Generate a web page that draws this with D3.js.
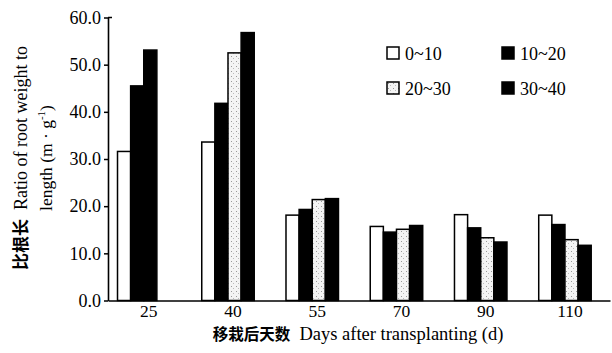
<!DOCTYPE html>
<html>
<head>
    <meta http-equiv="content-type" content="text/html; charset=utf-8" />
    <title>Index</title>
    <script src="https://cdn.jsdelivr.net/npm/d3@7"></script>
    <style>
        body { margin: 0; background: #fff; }
    </style>
</head>
<body>
    <svg width="612" height="353" id="svgChart"></svg>

    <script>
        // data
        var days = ["25", "40", "55", "70", "90", "110"];
        var seriesNames = ["0~10", "10~20", "20~30", "30~40"];
        var s0_10 = [31.6, 33.6, 18.1, 15.7, 18.2, 18.1];
        var s10_20 = [45.5, 41.8, 19.3, 14.5, 15.4, 16.1];
        var s20_30 = [null, 52.5, 21.4, 15.1, 13.3, 12.9];
        var s30_40 = [53.1, 56.8, 21.6, 15.9, 12.4, 11.7];
        var yTicks = [0, 10, 20, 30, 40, 50, 60];

        var seriesValues = [s0_10, s10_20, s20_30, s30_40];
        var fills = ["#fff", "#000", "url(#stipple)", "#000"];

        var svg = d3.select("#svgChart");
        var serif = "Liberation Serif, DejaVu Serif, serif";
        var cjk = "Noto Sans CJK SC, sans-serif";

        // stipple pattern for the 20~30 bars
        var pat = svg.append("defs").append("pattern")
            .attr("id", "stipple")
            .attr("patternUnits", "userSpaceOnUse")
            .attr("width", 5).attr("height", 5);
        pat.append("rect").attr("width", 5).attr("height", 5).attr("fill", "#f4f4f4");
        pat.append("rect").attr("x", 1).attr("y", 1).attr("width", 1).attr("height", 1).attr("fill", "#999");
        pat.append("rect").attr("x", 3).attr("y", 3).attr("width", 1).attr("height", 1).attr("fill", "#bbb");

        var x = d3.scaleBand().domain(days).range([108, 610])
            .paddingInner(0.377).paddingOuter(0.168).align(0.336);
        var xi = d3.scaleBand().domain([0, 1, 2, 3]).range([0, x.bandwidth()]);
        var y = d3.scaleLinear().domain([0, 60]).range([300.5, 17.5]);

        // bars: within a day the present values sit side by side
        var bars = [];
        days.forEach(function(d, i) {
            var k = 0;
            seriesValues.forEach(function(vals, s) {
                if (vals[i] == null) return;
                bars.push({day: d, slot: k, series: s, value: vals[i]});
                k++;
            });
        });

        svg.append("g").selectAll("rect")
            .data(bars)
            .enter().append("rect")
            .attr("x", function(d) { return x(d.day) + xi(d.slot); })
            .attr("y", function(d) { return y(d.value); })
            .attr("width", xi.bandwidth())
            .attr("height", function(d) { return y(0) - y(d.value); })
            .attr("fill", function(d) { return fills[d.series]; })
            .attr("stroke", "#000")
            .attr("stroke-width", 1.5);

        // y axis
        var gy = svg.append("g")
            .attr("transform", "translate(108,0)")
            .call(d3.axisLeft(y).tickValues(yTicks).tickFormat(d3.format(".1f")).tickSize(4).tickSizeOuter(0).tickPadding(3));
        gy.attr("font-family", serif).attr("font-size", 18);
        gy.select(".domain").attr("stroke-width", 1.6);
        gy.selectAll(".tick line").attr("stroke-width", 1.5);
        gy.append("line").attr("x1", 0).attr("x2", 4).attr("y1", y(60)).attr("y2", y(60))
            .attr("stroke", "#000").attr("stroke-width", 1.5);

        // x axis
        var gx = svg.append("g")
            .attr("transform", "translate(0," + y(0) + ")")
            .call(d3.axisBottom(x).tickSize(0).tickPadding(4));
        gx.attr("font-family", serif).attr("font-size", 17.5);
        gx.select(".domain").attr("stroke-width", 1.6);
        gx.selectAll(".tick text").attr("dx", 5);

        // axis titles
        var xt = svg.append("text")
            .attr("x", 358).attr("y", 340)
            .attr("text-anchor", "middle");
        xt.append("tspan").attr("font-family", cjk).attr("font-size", 15.5).attr("font-weight", "bold").text("移栽后天数");
        xt.append("tspan").attr("font-family", serif).attr("font-size", 18.5).text("\u2002Days after transplanting (d)");

        var yt = svg.append("g").attr("transform", "translate(27,158) rotate(-90)");
        var yl1 = yt.append("text").attr("text-anchor", "middle");
        yl1.append("tspan").attr("font-family", cjk).attr("font-size", 17).attr("font-weight", "bold").text("比根长");
        yl1.append("tspan").attr("font-family", serif).attr("font-size", 18).text("\u2002Ratio of root weight to");
        var yl2 = yt.append("text").attr("text-anchor", "middle").attr("y", 25)
            .attr("font-family", serif).attr("font-size", 17.5);
        yl2.append("tspan").text("length (m \u00b7 g");
        yl2.append("tspan").attr("dy", -7).attr("font-size", 11).text("-1");
        yl2.append("tspan").attr("dy", 7).text(")");

        // legend
        var legend = svg.append("g").selectAll("g")
            .data(seriesNames)
            .enter().append("g")
            .attr("transform", function(d, i) {
                return "translate(" + (387 + (i % 2) * 115) + "," + (47 + Math.floor(i / 2) * 35) + ")";
            });
        legend.append("rect")
            .attr("width", 12).attr("height", 12)
            .attr("fill", function(d, i) { return fills[i]; })
            .attr("stroke", "#000").attr("stroke-width", 1.5);
        legend.append("text")
            .attr("x", 18).attr("y", 12.5)
            .attr("font-family", serif).attr("font-size", 18)
            .text(function(d) { return d; });
    </script>
</body>
</html>
